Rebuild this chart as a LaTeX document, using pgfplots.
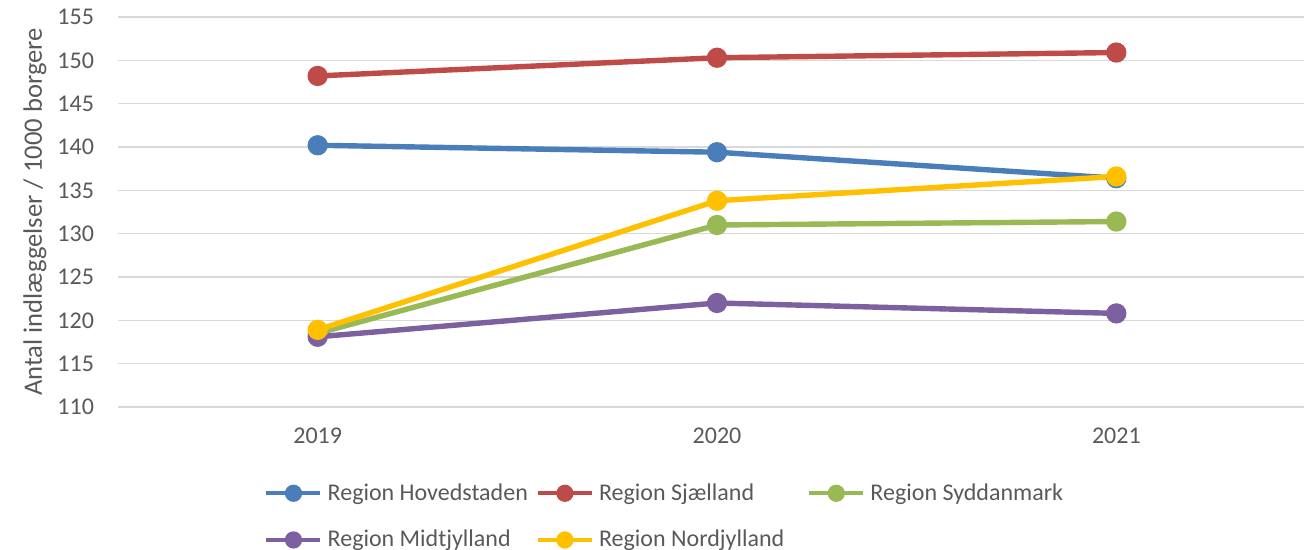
\documentclass[border=0pt]{standalone}
\usepackage{fontspec}
\setmainfont{Carlito}
\usepackage{pgfplots}
\pgfplotsset{compat=1.18}

\definecolor{cblue}{HTML}{4A7EBB}
\definecolor{cred}{HTML}{BE4B48}
\definecolor{cgreen}{HTML}{98B954}
\definecolor{cpurple}{HTML}{7D60A0}
\definecolor{cyellow}{HTML}{FFC000}
\definecolor{gridgray}{HTML}{D9D9D9}
\definecolor{txtgray}{HTML}{595959}

\newcommand{\lbl}[1]{\makebox[104pt][l]{#1}}

\begin{document}
\begin{tikzpicture}
\begin{axis}[
    at={(59pt,71.5pt)}, anchor=south west,
    scale only axis,
    width=593pt, height=195pt,
    xmin=-0.5, xmax=2.47,
    ymin=110, ymax=155,
    xtick={0,1,2},
    xticklabels={2019,2020,2021},
    ytick={110,115,...,155},
    ymajorgrids,
    grid style={draw=gridgray, line width=0.8pt},
    axis line style={draw=none},
    major tick style={draw=none},
    tick label style={font=\fontsize{12}{14}\selectfont, text=txtgray},
    /pgf/number format/assume math mode=true,
    xticklabel style={yshift=-7pt},
    yticklabel style={xshift=-8.5pt},
    ylabel={Antal indlæggelser / 1000 borgere},
    ylabel style={at={(axis description cs:-0.070,0.5)}, anchor=center,
        font=\fontsize{13.3}{15}\selectfont, text=txtgray},
    clip=false,
    every axis plot/.append style={line width=2.7pt, mark=*, mark size=3.7pt},
    legend columns=3,
    legend cell align=left,
    legend style={
        at={(axis description cs:0.1230,-0.195)}, anchor=north west,
        draw=none, fill=none, inner sep=0pt,
        font=\fontsize{12}{14}\selectfont, text=txtgray,
        nodes={inner sep=0pt},
        row sep=13.5pt,
        /tikz/every odd column/.append style={column sep=2.5pt},
    },
    legend image code/.code={
        \draw[mark repeat=2, mark phase=2, line width=2.2pt, mark size=3.2pt]
            plot coordinates {(0pt,0pt) (13.5pt,0pt) (27pt,0pt)};
    },
]

\addplot[color=cblue, mark options={fill=cblue}] coordinates {
    (0, 140.2) (1, 139.4) (2, 136.4)
};
\addlegendentry{\lbl{Region Hovedstaden}}

\addplot[color=cred, mark options={fill=cred}] coordinates {
    (0, 148.2) (1, 150.3) (2, 150.9)
};
\addlegendentry{\lbl{Region Sjælland}}

\addplot[color=cgreen, mark options={fill=cgreen}] coordinates {
    (0, 118.5) (1, 131.0) (2, 131.4)
};
\addlegendentry{\lbl{Region Syddanmark}}

\addplot[color=cpurple, mark options={fill=cpurple}] coordinates {
    (0, 118.1) (1, 122.0) (2, 120.8)
};
\addlegendentry{\lbl{Region Midtjylland}}

\addplot[color=cyellow, mark options={fill=cyellow}] coordinates {
    (0, 118.9) (1, 133.8) (2, 136.6)
};
\addlegendentry{\lbl{Region Nordjylland}}

\end{axis}
\pgfresetboundingbox
\path (0pt,0pt) rectangle (652pt,275pt);
\end{tikzpicture}
\end{document}
